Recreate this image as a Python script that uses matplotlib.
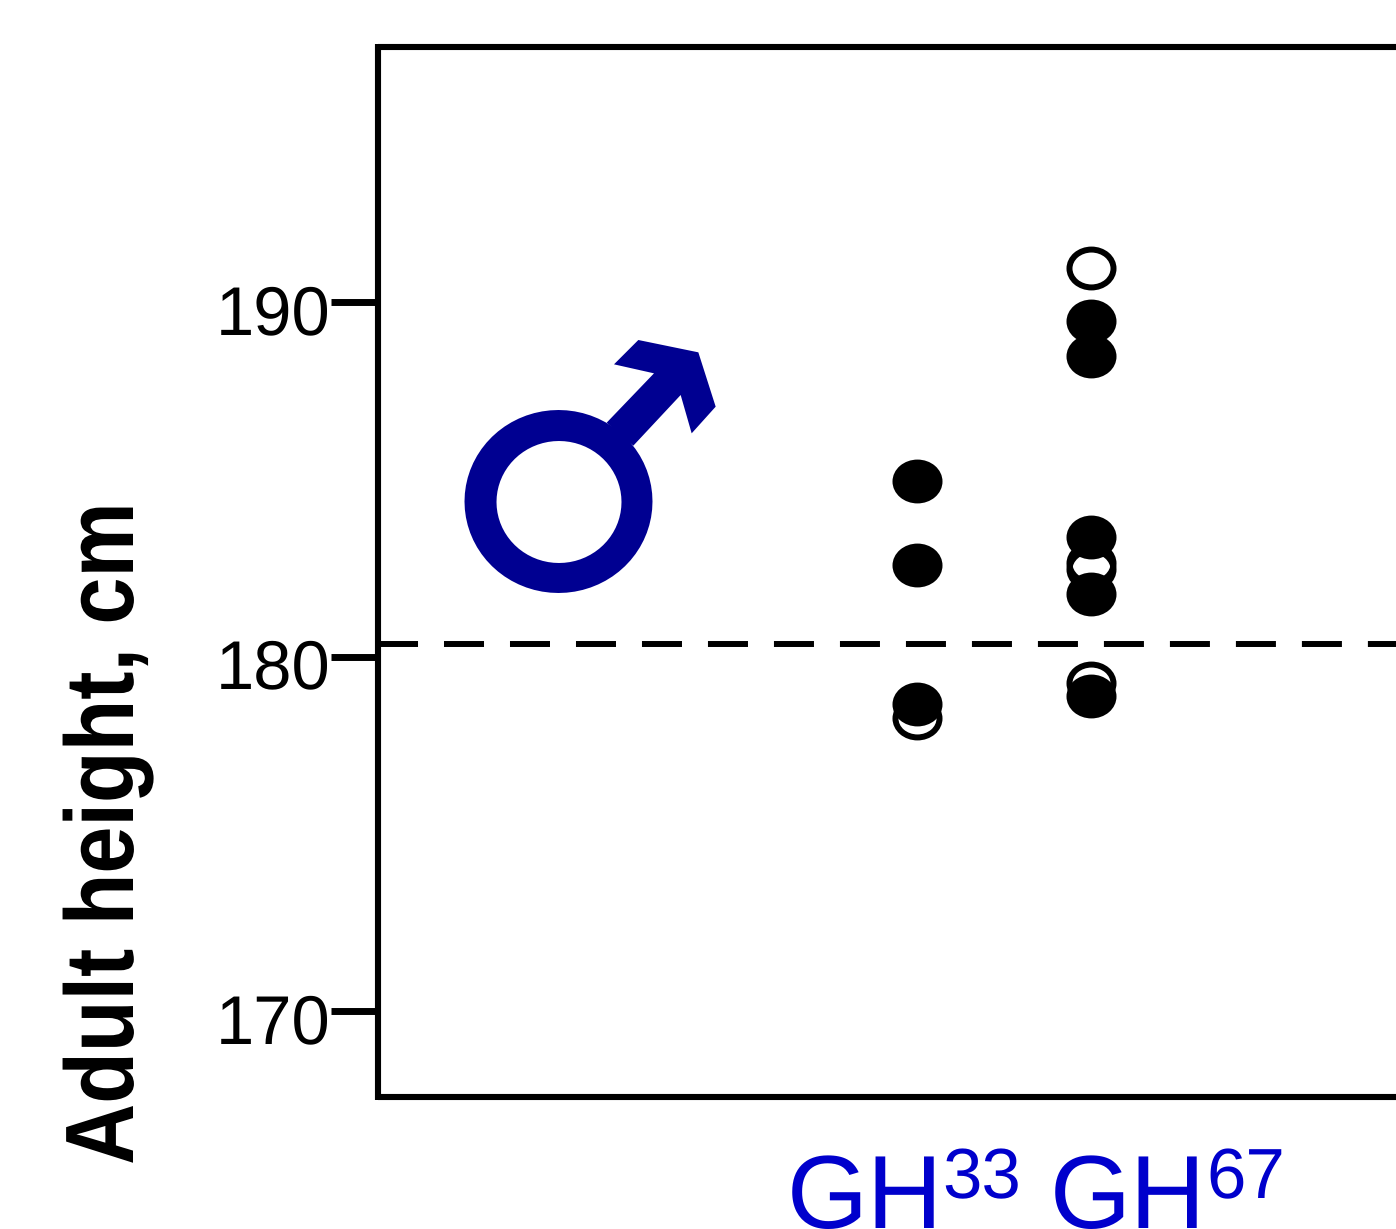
import matplotlib
matplotlib.use("Agg")
import matplotlib.pyplot as plt
from matplotlib.patches import PathPatch, Polygon
from matplotlib.path import Path
from matplotlib.patheffects import AbstractPathEffect
from matplotlib.transforms import Affine2D, ScaledTranslation
import numpy as np

plt.rcParams.update({
    "font.family": ["Liberation Sans", "DejaVu Sans"],
    "text.hinting": "none",
})

W, H = 1396, 1229
BLUE = "#0000CC"
NAVY = "#000091"

group_pos = [1, 2]
group_names = ["GH", "GH"]
group_sups = ["33", "67"]
filled_a = [184.95, 182.58, 178.66]
open_a = [178.27]
filled_b = [189.46, 188.48, 183.37, 181.76, 178.89]
open_b = [190.96, 182.64, 182.47, 179.25]
ref_height = 180.36
yticks = [170, 180, 190]


class Squeeze(AbstractPathEffect):
    # squeeze the rotated label along its length, around one y in pixels
    def __init__(self, scale, cy):
        super().__init__()
        self.scale = scale
        self.cy = cy

    def draw_path(self, renderer, gc, tpath, affine, rgbFace=None):
        squeeze = Affine2D().translate(0, -self.cy).scale(1, self.scale).translate(0, self.cy)
        renderer.draw_path(gc, tpath, affine + squeeze, rgbFace)


fig = plt.figure(figsize=(W / 100, H / 100), dpi=100)
ax = fig.add_axes([378 / W, 1 - 1097 / H, (W - 378) / W, 1050 / H])
px = Affine2D().scale(1 / W, -1 / H).translate(0, 1) + fig.transFigure

# ellipse marker, points are wider than tall in the original
oval = Path.unit_circle().transformed(Affine2D().scale(1, 0.86))
mk = dict(marker=oval, ms=31.7, mew=4.3, mec="black", ls="none", clip_on=False)

ax.axhline(ref_height, color="black", lw=4.3, dashes=(6.7, 4.35), zorder=1)
ax.plot([group_pos[0]] * len(open_a), open_a, mfc="none", zorder=2, **mk)
ax.plot([group_pos[1]] * len(open_b), open_b, mfc="none", zorder=2, **mk)
ax.plot([group_pos[0]] * len(filled_a), filled_a, mfc="black", zorder=3, **mk)
ax.plot([group_pos[1]] * len(filled_b), filled_b, mfc="black", zorder=3, **mk)

ax.set_xlim(-2.098, 3.753)
y0, y1 = 190 - (1097 - 302) / 35.45, 190 + (302 - 47) / 35.45
ax.set_ylim(y0, y1)
ax.set_xticks([])
ax.set_yticks(yticks)
ax.tick_params(axis="y", length=34, width=5, labelsize=49.5, pad=0)
for lab in ax.get_yticklabels():
    lab.set_transform(lab.get_transform() + ScaledTranslation(0, -0.07, fig.dpi_scale_trans))
ax.spines["right"].set_visible(False)
for name in ["left", "top", "bottom"]:
    ax.spines[name].set_linewidth(4.4)
ax.spines["top"].set_capstyle("butt")
ax.spines["bottom"].set_capstyle("butt")
# left spine runs a little past the bottom one
ax.spines["left"].set_capstyle("butt")
ax.spines["left"].set_bounds(y0 - 3 / 35.45, y1 + 3 / 35.45)

# male sign, built in pixel coordinates of the picture
t = np.linspace(0, 2 * np.pi, 73)
outer = np.c_[558.5 + 94 * np.cos(t), 501.5 + 91.5 * np.sin(t)]
inner = np.c_[559 + 62.5 * np.cos(t[::-1]), 502 + 61 * np.sin(t[::-1])]
ring = Path.make_compound_path(Path(outer, closed=True), Path(inner, closed=True))
fig.add_artist(PathPatch(ring, fc=NAVY, ec="none", transform=px))
arrow_zoom = np.array([(470, 278), (612, 130), (492, 103), (565, 30), (745, 67),
                       (797, 230), (725, 310), (692, 195), (550, 347)])
arrow = arrow_zoom / 3 + [450, 330]
fig.add_artist(Polygon(arrow, closed=True, fc=NAVY, ec="none", transform=px))

# group labels sit under the points but not centred on them
for name, sup, x0, x1 in zip(group_names, group_sups, [786.5, 1049.5], [942, 1206]):
    fig.text(x0 / W, 1 - 1228 / H, name, color=BLUE, fontsize=75, ha="left", va="baseline")
    fig.text(x1 / W, 1 - 1198 / H, sup, color=BLUE, fontsize=51, ha="left", va="baseline")

ylab = fig.text(133 / W, 1 - 833.5 / H, "Adult height, cm", rotation=90,
                rotation_mode="anchor", ha="center", va="baseline",
                fontsize=70, fontweight="bold")
ylab.set_path_effects([Squeeze(0.87, H - 833.5)])

fig.savefig("out.png", dpi=100)
